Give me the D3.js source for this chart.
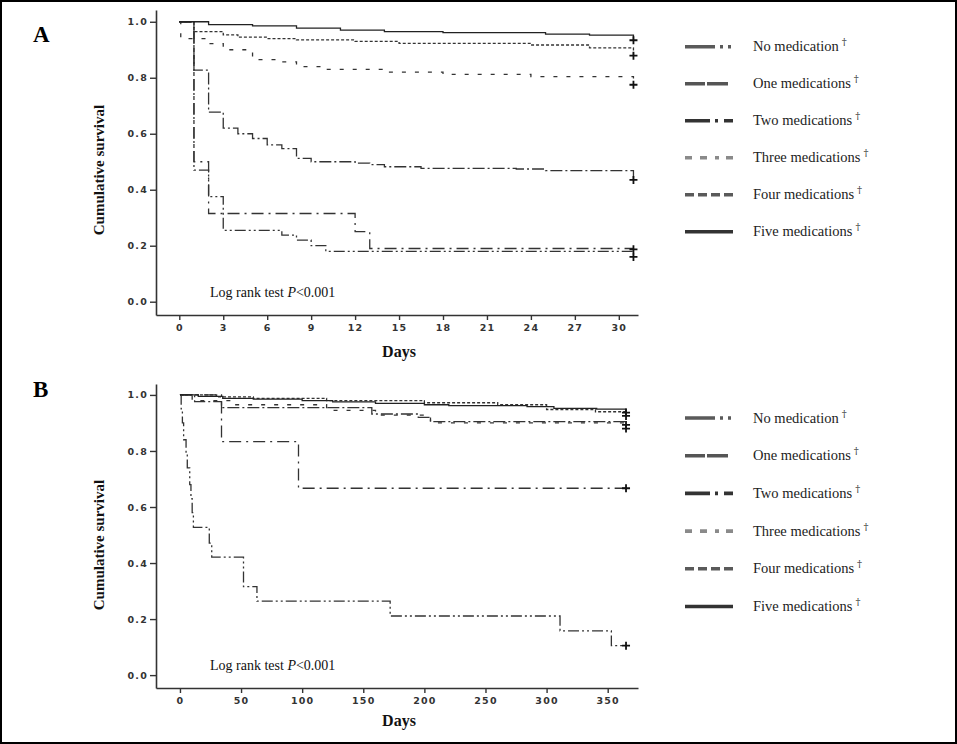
<!DOCTYPE html>
<html><head><meta charset="utf-8">
<script src="https://cdn.jsdelivr.net/npm/d3@7"></script>
<style>
html,body{margin:0;padding:0;background:#fff;}
svg{display:block;}
</style></head>
<body>
<script>
// ---------- DATA ----------
const seriesNames = ["No medication", "One medications", "Two medications", "Three medications", "Four medications", "Five medications"];
const ticksA = [0, 3, 6, 9, 12, 15, 18, 21, 24, 27, 30];
const ticksB = [0, 50, 100, 150, 200, 250, 300, 350];
const yTicks = [0.0, 0.2, 0.4, 0.6, 0.8, 1.0];

// Panel A (days 0-31)
const aNoDays = [0, 1, 2, 3, 7, 8, 9, 10, 31];
const aNoSurv = [1, 0.47, 0.375, 0.255, 0.238, 0.22, 0.2, 0.18, 0.16];
const aOneDays = [0, 1, 2, 12, 13, 31];
const aOneSurv = [1, 0.5, 0.315, 0.25, 0.19, 0.187];
const aTwoDays = [0, 1, 2, 3, 4, 5, 6, 7, 8, 9, 12, 13, 14, 16.5, 23, 25, 31];
const aTwoSurv = [1, 0.827, 0.677, 0.62, 0.6, 0.583, 0.56, 0.547, 0.512, 0.5, 0.495, 0.49, 0.482, 0.476, 0.474, 0.468, 0.435];
const aThreeDays = [0, 0.1, 2, 3, 5, 7, 8, 10, 14, 18, 24, 31];
const aThreeSurv = [1, 0.94, 0.922, 0.9, 0.865, 0.857, 0.84, 0.83, 0.82, 0.812, 0.804, 0.775];
const aFourDays = [0, 1, 3, 4, 6, 8, 12, 15, 24, 28, 31];
const aFourSurv = [1, 0.965, 0.953, 0.945, 0.94, 0.935, 0.93, 0.923, 0.917, 0.907, 0.879];
const aFiveDays = [0, 2, 5, 8, 11, 14, 18, 25, 28, 31];
const aFiveSurv = [1, 0.99, 0.985, 0.977, 0.97, 0.965, 0.961, 0.956, 0.952, 0.934];

// Panel B (days 0-365)
const bNoDays = [0, 1, 2, 3, 5, 6, 8, 9, 10, 11, 24, 26, 52, 63, 172, 311, 353, 365];
const bNoSurv = [1, 0.95, 0.9, 0.84, 0.79, 0.74, 0.68, 0.63, 0.58, 0.527, 0.471, 0.421, 0.316, 0.264, 0.211, 0.158, 0.105, 0.105];
const bOneDays = [0, 34, 97, 365];
const bOneSurv = [1, 0.833, 0.667, 0.667];
const bTwoDays = [0, 12, 34, 157, 195, 205, 365];
const bTwoSurv = [1, 0.976, 0.955, 0.932, 0.92, 0.905, 0.88];
const bThreeDays = [0, 10, 45, 120, 160, 205, 365];
const bThreeSurv = [1, 0.98, 0.965, 0.945, 0.928, 0.9, 0.893];
const bFourDays = [0, 30, 60, 120, 200, 260, 300, 340, 365];
const bFourSurv = [1, 0.993, 0.988, 0.98, 0.972, 0.965, 0.948, 0.94, 0.925];
const bFiveDays = [0, 15, 35, 60, 100, 125, 160, 200, 220, 284, 306, 341, 365];
const bFiveSurv = [1, 0.995, 0.988, 0.985, 0.98, 0.975, 0.97, 0.965, 0.962, 0.958, 0.952, 0.949, 0.937];

// ---------- STYLES ----------
const curveDash = ["11,3,2,3,2,3", "12,5,2,5", "12,3,2,3", "4,9", "3,2", null];
const legendDash = ["30,5,3,5,3", "20,2,21,8,3", "25,5,3,6,9", "7,8,7,8,4", "9,4,9,4,9,4,9", null];
const legendColor = ["#5a5a5a", "#555", "#333", "#8a8a8a", "#5a5a5a", "#333"];
const serif = "'Liberation Serif','Times New Roman',serif";
const sans = "'DejaVu Sans','Liberation Sans',Arial,sans-serif";

const W = 957, H = 744;
const svg = d3.select("body").append("svg").attr("width", W).attr("height", H);
svg.append("rect").attr("width", W).attr("height", H).attr("fill", "#fff");
svg.append("rect").attr("x", 1).attr("y", 1).attr("width", W - 2).attr("height", H - 2)
  .attr("fill", "none").attr("stroke", "#000").attr("stroke-width", 2);

function zip(d, s) { return d.map((v, i) => [v, s[i]]); }

function drawPanel(cfg) {
  const x = d3.scaleLinear().domain(cfg.xDomain).range([156, 638]);
  const y = d3.scaleLinear().domain(cfg.yDomain).range([cfg.bottom, cfg.top]);
  const g = svg.append("g");

  const ya = g.append("g").attr("transform", "translate(156,0)")
    .call(d3.axisLeft(y).tickValues(yTicks).tickFormat(d3.format(".1f")).tickSize(6).tickSizeOuter(0).tickPadding(2));
  const xa = g.append("g").attr("transform", `translate(0,${cfg.bottom})`)
    .call(d3.axisBottom(x).tickValues(cfg.xTicks).tickSize(5).tickSizeOuter(0).tickPadding(4));
  [ya, xa].forEach(a => {
    a.select(".domain").attr("stroke", "#333").attr("stroke-width", 1.6);
    a.selectAll(".tick line").attr("stroke", "#333").attr("stroke-width", 1.4);
    a.selectAll(".tick text").attr("fill", "#333").style("font-family", sans).style("font-size", "9.5px")
      .style("letter-spacing", "1.2px").style("font-weight", "bold");
  });

  const line = d3.line().x(d => x(d[0])).y(d => y(d[1])).curve(d3.curveStepAfter);
  cfg.series.forEach((s, i) => {
    const pts = zip(s[0], s[1]);
    g.append("path").attr("d", line(pts)).attr("fill", "none")
      .attr("stroke", i === 5 ? "#222" : "#333").attr("stroke-width", 1.3)
      .attr("stroke-dasharray", curveDash[i]);
    const last = pts[pts.length - 1];
    const cx = x(last[0]), cy = y(last[1]);
    g.append("path").attr("d", `M${cx - 4},${cy}H${cx + 4}M${cx},${cy - 4}V${cy + 4}`)
      .attr("stroke", "#111").attr("stroke-width", 1.8).attr("fill", "none");
  });

  svg.append("text").attr("x", 33).attr("y", cfg.top + cfg.letterDy).text(cfg.letter)
    .style("font-family", serif).style("font-weight", "bold").style("font-size", "23px").attr("fill", "#000");
  svg.append("text").attr("transform", `translate(104,${cfg.titleY}) rotate(-90)`).attr("text-anchor", "middle")
    .text("Cumulative survival").style("font-family", serif).style("font-weight", "bold").style("font-size", "15px").attr("fill", "#111");
  svg.append("text").attr("x", 399).attr("y", cfg.bottom + cfg.daysDy).attr("text-anchor", "middle")
    .text("Days").style("font-family", serif).style("font-weight", "bold").style("font-size", "16px").attr("fill", "#111");
  const lr = svg.append("text").attr("x", 210).attr("y", cfg.logY)
    .style("font-family", serif).style("font-size", "14px").attr("fill", "#111");
  lr.append("tspan").text("Log rank test ");
  lr.append("tspan").text("P").style("font-style", "italic");
  lr.append("tspan").text("<0.001");

  seriesNames.forEach((n, i) => {
    const ly = cfg.legTop + i * cfg.legStep;
    svg.append("line").attr("x1", 685).attr("x2", 733).attr("y1", ly).attr("y2", ly)
      .attr("stroke", legendColor[i]).attr("stroke-width", 3.6).attr("stroke-dasharray", legendDash[i]);
    const t = svg.append("text").attr("x", 753).attr("y", ly + 4.5)
      .style("font-family", serif).style("font-size", "14.5px").attr("fill", "#222");
    t.append("tspan").text(n);
    t.append("tspan").text("\u2020").attr("dx", 3).attr("dy", -6)
      .style("font-size", "10px").style("font-family", "'DejaVu Serif',serif").attr("fill", "#333");
  });
}

drawPanel({
  xDomain: [-1.59, 31.31], yDomain: [-0.0475, 1.042], top: 10, bottom: 315,
  xTicks: ticksA, letter: "A", letterDy: 32, titleY: 170, daysDy: 42, logY: 297,
  legTop: 46.7, legStep: 37,
  series: [[aNoDays, aNoSurv], [aOneDays, aOneSurv], [aTwoDays, aTwoSurv], [aThreeDays, aThreeSurv], [aFourDays, aFourSurv], [aFiveDays, aFiveSurv]]
});
drawPanel({
  xDomain: [-19.6, 374.8], yDomain: [-0.046, 1.039], top: 384, bottom: 688,
  xTicks: ticksB, letter: "B", letterDy: 13, titleY: 545, daysDy: 38, logY: 670,
  legTop: 418, legStep: 37.7,
  series: [[bNoDays, bNoSurv], [bOneDays, bOneSurv], [bTwoDays, bTwoSurv], [bThreeDays, bThreeSurv], [bFourDays, bFourSurv], [bFiveDays, bFiveSurv]]
});
</script>
</body></html>
